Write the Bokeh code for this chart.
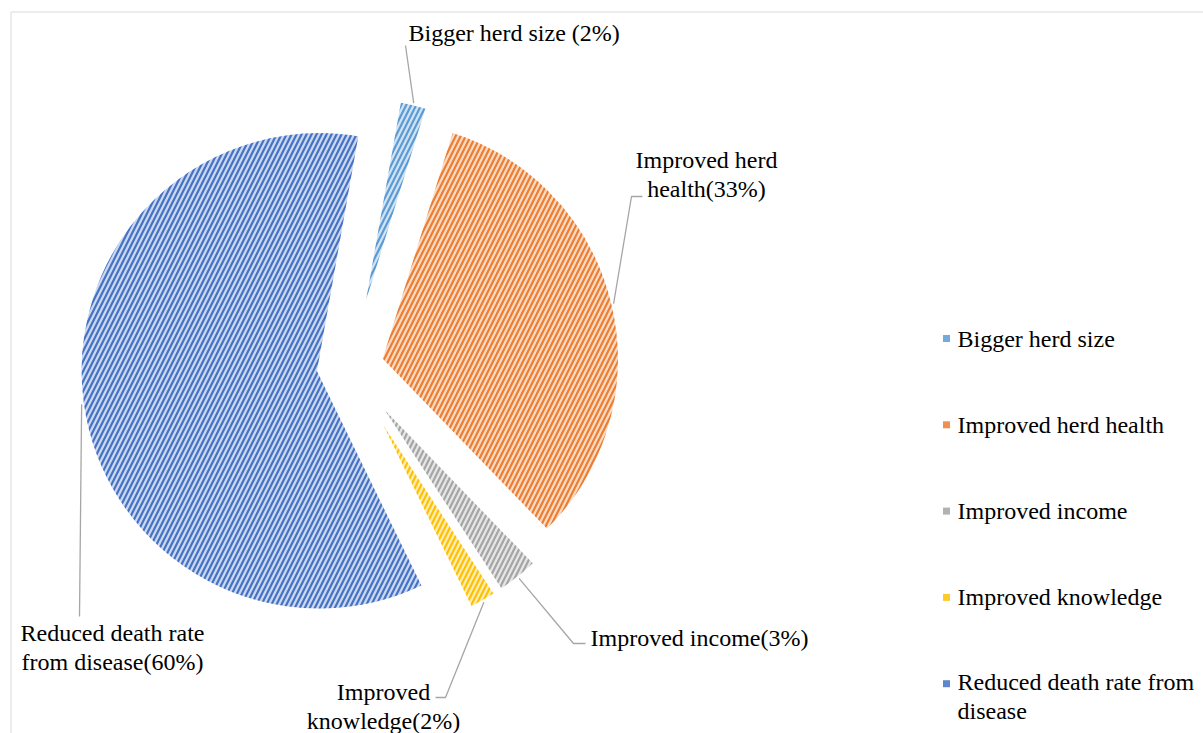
import numpy as np
from bokeh.plotting import figure
from bokeh.models import Range1d, ColumnDataSource
from bokeh.core.properties import value
from bokeh.embed import file_html
from bokeh.resources import INLINE

# --- data -----------------------------------------------------------------
categories = [
    "Bigger herd size",
    "Improved herd health",
    "Improved income",
    "Improved knowledge",
    "Reduced death rate from disease",
]
shares = [2, 33, 3, 2, 60]  # percent of respondents
colors = ["#5B9BD5", "#ED7D31", "#A5A5A5", "#FFC000", "#4472C4"]
data_labels = [
    "Bigger herd size (2%)",
    "Improved herd\nhealth(33%)",
    "Improved income(3%)",
    "Improved\nknowledge(2%)",
    "Reduced death rate\nfrom disease(60%)",
]
legend_labels = [
    "Bigger herd size",
    "Improved herd health",
    "Improved income",
    "Improved knowledge",
    "Reduced death rate from\ndisease",
]

# --- layout (pixel space, y measured downward from the top) ---------------
W, H = 1203, 733


def sy(y):
    """Convert a downward pixel offset into the upward data axis."""
    return H - y


PIE_X, PIE_Y = 349.5, 366.0
RADIUS = 240.0
EXPLODE = 31.0
START_DEG = 10.0  # first slice starts 10 degrees clockwise from 12 o'clock

FONT = value("Liberation Serif")
FONT_SIZE = "24px"
LINE_H = 1.13

# label anchor (x, y, align) and leader-line bend points per slice
label_pos = [
    (408, 32, "left"),
    (706, 174, "center"),
    (590, 637, "left"),
    (383, 706, "center"),
    (112, 647, "center"),
]
leader_bends = [
    [(405, 45)],
    [(631, 196), (642, 196)],
    [(573, 643), (585, 643)],
    [(445, 697), (435, 697)],
    [(79, 616)],
]

# --- geometry of the exploded pie -----------------------------------------
vals = np.array(shares, dtype=float)
frac = vals / vals.sum()
phi0 = START_DEG + 360.0 * np.concatenate([[0.0], np.cumsum(frac)[:-1]])
phi1 = phi0 + 360.0 * frac
mid = np.radians((phi0 + phi1) / 2.0)

cx = PIE_X + EXPLODE * np.sin(mid)
cy = sy(PIE_Y) + EXPLODE * np.cos(mid)

src = ColumnDataSource(dict(
    x=cx, y=cy,
    start=np.radians(90.0 - phi1),
    end=np.radians(90.0 - phi0),
    color=colors,
    name=categories,
))

p = figure(
    width=W, height=H,
    x_range=Range1d(0, W), y_range=Range1d(0, H),
    output_backend="svg", toolbar_location=None,
    min_border=0, x_axis_location=None, y_axis_location=None,
    outline_line_color=None, background_fill_color="white",
    border_fill_color="white",
)
p.grid.grid_line_color = None

# chart area border
p.quad(left=[10.5], right=[1260], top=[sy(11.5)], bottom=[sy(800)],
       fill_color=None, line_color="#D9D9D9", line_width=1)

p.wedge(
    x="x", y="y", radius=RADIUS,
    start_angle="start", end_angle="end", direction="anticlock",
    fill_color="color", fill_alpha=0.28,
    hatch_pattern="/", hatch_color="color", hatch_scale=10, hatch_weight=2.2,
    line_color="white", line_width=4.6, line_join="bevel",
    source=src,
)

# leader lines from the middle of each slice's rim to its label
xs, ys = [], []
for i in range(len(shares)):
    x0 = cx[i] + RADIUS * np.sin(mid[i])
    y0 = cy[i] + RADIUS * np.cos(mid[i])
    xs.append([x0] + [b[0] for b in leader_bends[i]])
    ys.append([y0] + [sy(b[1]) for b in leader_bends[i]])
p.multi_line(xs=xs, ys=ys, line_color="#A6A6A6", line_width=1.3)

for (lx, ly, align), txt in zip(label_pos, data_labels):
    p.text(x=[lx], y=[sy(ly)], text=[txt], text_align=align,
           text_baseline="middle", text_font=FONT, text_font_size=FONT_SIZE,
           text_color="#000000", text_line_height=LINE_H)

# legend
LEG_X, LEG_Y0, LEG_DY = 946, 338, 86.3
for i, (lab, col) in enumerate(zip(legend_labels, colors)):
    yc = LEG_Y0 + LEG_DY * i
    p.rect(x=[LEG_X], y=[sy(yc)], width=7, height=7, fill_color=col,
           fill_alpha=0.85, line_color=None)
    n_lines = lab.count("\n") + 1
    block_c = yc + (n_lines - 1) * 13.0
    p.text(x=[LEG_X + 11], y=[sy(block_c)], text=[lab], text_align="left",
           text_baseline="middle", text_font=FONT, text_font_size=FONT_SIZE,
           text_color="#000000", text_line_height=LINE_H)

open("out.html", "w").write(file_html(p, INLINE))
